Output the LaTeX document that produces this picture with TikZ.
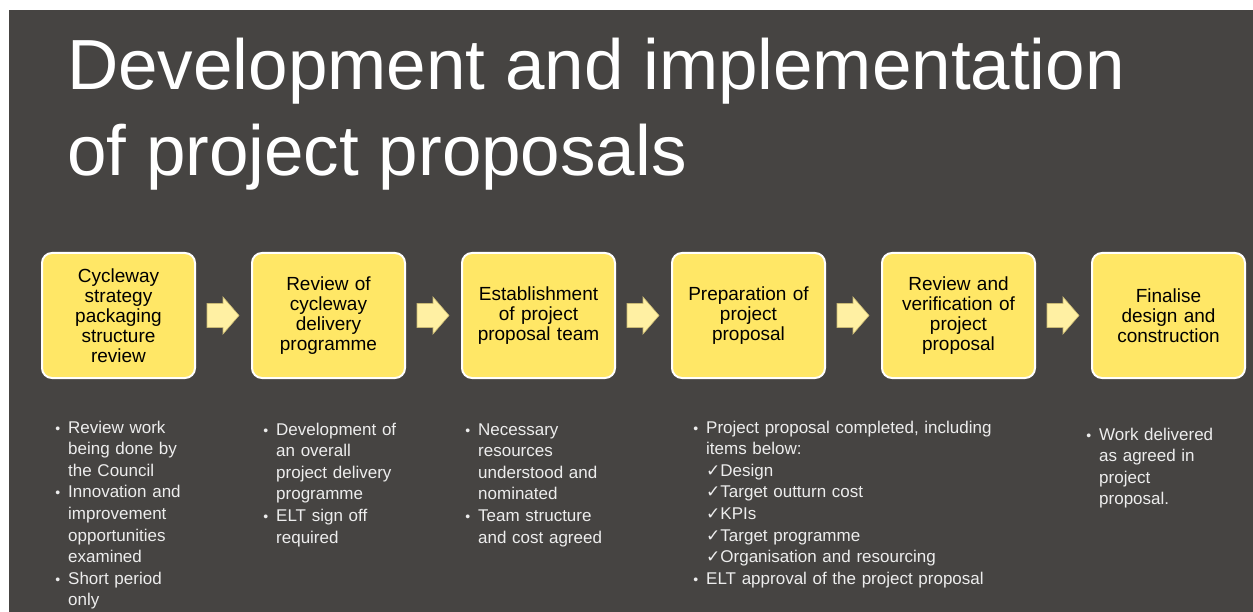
\documentclass[tikz,border=0pt]{standalone}
\usepackage{fontspec}
\setmainfont{Liberation Sans}
\newfontfamily\symfont{DejaVu Sans}
\usetikzlibrary{calc}
\definecolor{bg}{HTML}{464442}
\definecolor{boxyellow}{HTML}{FFE766}
\definecolor{arrowyellow}{HTML}{FFF0A3}
\definecolor{arrowedge}{HTML}{C9B974}
\definecolor{bultxt}{HTML}{EDEDED}
\newcommand\bul{\leavevmode\llap{{\fontsize{14}{14}\selectfont\textbullet}\hspace{8pt}}}
\newcommand\chk{{\symfont\fontsize{17}{17}\selectfont ✓}}
\begin{document}
\begin{tikzpicture}[x=1pt,y=-1pt,
  stepbox/.style={draw=white, line width=2pt, fill=boxyellow, rounded corners=10pt,
    minimum width=153pt, minimum height=125pt, text width=145pt, inner xsep=4pt,
    inner ysep=0pt, align=center, outer sep=0pt,
    font=\fontsize{19}{20}\selectfont, text=black},
  bultext/.style={anchor=north west, text=bultxt, text width=340pt, align=left,
    inner sep=0pt, font=\fontsize{17}{21.6}\selectfont},
  blockarrow/.style={fill=arrowyellow, draw=arrowedge, line width=0.6pt},
  titletext/.style={anchor=base west, text=white, inner sep=0pt,
    font=\fontsize{71}{86}\selectfont}]
\useasboundingbox (0,0) rectangle (1253,612);
\fill[white] (0,0) rectangle (1253,612);
\fill[bg] (9,10) rectangle (1253,612);

% title
\node[titletext] (title1) at (67,90) {Development and implementation};
\node[titletext] (title2) at (67,176) {of project proposals};

% step boxes
\node[stepbox] (b1) at (118.5,315.5) {Cycleway\\strategy\\packaging\\structure\\review};
\node[stepbox] (b2) at (328.5,315.5) {Review of\\cycleway\\delivery\\programme};
\node[stepbox] (b3) at (538.5,315.5) {Establishment\\of project\\proposal team};
\node[stepbox] (b4) at (748.5,315.5) {Preparation of\\project\\proposal};
\node[stepbox] (b5) at (958.5,315.5) {Review and\\verification of\\project\\proposal};
\node[stepbox] (b6) at (1168.5,315.5) {Finalise\\design and\\construction};

% block arrows
\foreach \a/\b in {b1/b2,b2/b3,b3/b4,b4/b5,b5/b6}{
  \path[blockarrow] ($(\a.east)+(12,-12)$) -- ++(16,0) -- ++(0,-6.5)
     -- ($(\b.west)+(-13,0)$) -- ($(\a.east)+(28,18.5)$) -- ++(0,-6.5)
     -- ($(\a.east)+(12,12)$) -- cycle;
}

% bullet texts
\node[bultext] (t1) at (68,417.8) {\strut\bul Review work\\being done by\\the Council\\\bul Innovation and\\improvement\\opportunities\\examined\\\bul Short period\\only};
\node[bultext] (t2) at (276,419.8) {\strut\bul Development of\\an overall\\project delivery\\programme\\\bul ELT sign off\\required};
\node[bultext] (t3) at (478,419.8) {\strut\bul Necessary\\resources\\understood and\\nominated\\\bul Team structure\\and cost agreed};
\node[bultext] (t4) at (706,417.8) {\strut\bul Project proposal completed, including\\items below:\\\chk Design\\\chk Target outturn cost\\\chk KPIs\\\chk Target programme\\\chk Organisation and resourcing\\\bul ELT approval of the project proposal};
\node[bultext] (t5) at (1099,424.8) {\strut\bul Work delivered\\as agreed in\\project\\proposal.};
\end{tikzpicture}
\end{document}
